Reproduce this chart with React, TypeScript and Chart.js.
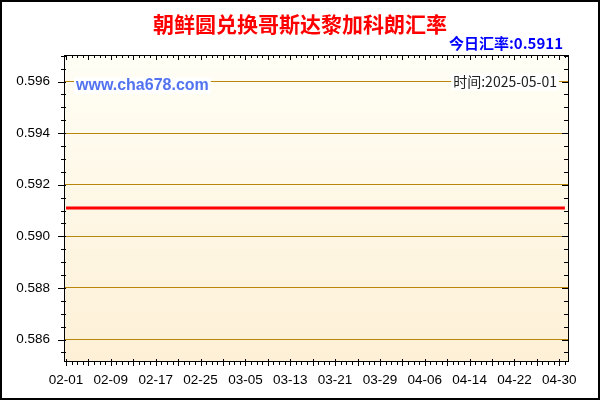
import { useEffect, useRef } from "react";
import { Chart, registerables } from "chart.js";

Chart.register(...registerables);

// 日期(02-01 ~ 05-01)
const dates = [
  "02-01", "02-02", "02-03", "02-04", "02-05", "02-06", "02-07", "02-08", "02-09", "02-10",
  "02-11", "02-12", "02-13", "02-14", "02-15", "02-16", "02-17", "02-18", "02-19", "02-20",
  "02-21", "02-22", "02-23", "02-24", "02-25", "02-26", "02-27", "02-28", "03-01", "03-02",
  "03-03", "03-04", "03-05", "03-06", "03-07", "03-08", "03-09", "03-10", "03-11", "03-12",
  "03-13", "03-14", "03-15", "03-16", "03-17", "03-18", "03-19", "03-20", "03-21", "03-22",
  "03-23", "03-24", "03-25", "03-26", "03-27", "03-28", "03-29", "03-30", "03-31", "04-01",
  "04-02", "04-03", "04-04", "04-05", "04-06", "04-07", "04-08", "04-09", "04-10", "04-11",
  "04-12", "04-13", "04-14", "04-15", "04-16", "04-17", "04-18", "04-19", "04-20", "04-21",
  "04-22", "04-23", "04-24", "04-25", "04-26", "04-27", "04-28", "04-29", "04-30", "05-01",
];

// 汇率
const rates = [
  0.5911, 0.5911, 0.5911, 0.5911, 0.5911, 0.5911, 0.5911, 0.5911, 0.5911, 0.5911,
  0.5911, 0.5911, 0.5911, 0.5911, 0.5911, 0.5911, 0.5911, 0.5911, 0.5911, 0.5911,
  0.5911, 0.5911, 0.5911, 0.5911, 0.5911, 0.5911, 0.5911, 0.5911, 0.5911, 0.5911,
  0.5911, 0.5911, 0.5911, 0.5911, 0.5911, 0.5911, 0.5911, 0.5911, 0.5911, 0.5911,
  0.5911, 0.5911, 0.5911, 0.5911, 0.5911, 0.5911, 0.5911, 0.5911, 0.5911, 0.5911,
  0.5911, 0.5911, 0.5911, 0.5911, 0.5911, 0.5911, 0.5911, 0.5911, 0.5911, 0.5911,
  0.5911, 0.5911, 0.5911, 0.5911, 0.5911, 0.5911, 0.5911, 0.5911, 0.5911, 0.5911,
  0.5911, 0.5911, 0.5911, 0.5911, 0.5911, 0.5911, 0.5911, 0.5911, 0.5911, 0.5911,
  0.5911, 0.5911, 0.5911, 0.5911, 0.5911, 0.5911, 0.5911, 0.5911, 0.5911, 0.5911,
];

const yMin = 0.58517;
const yMax = 0.59703;
const yMinorStep = 0.0005;
const yLabelStep = 0.002;
const xLabelEvery = 8;
const xMajorEvery = 4;

const titleText = "朝鲜圆兑换哥斯达黎加科朗汇率";
const todayText = "今日汇率:0.5911";
const siteText = "www.cha678.com";
const timeText = "时间:2025-05-01";

const isYLabel = (v: number) => {
  const k = v / yLabelStep;
  return Math.abs(k - Math.round(k)) < 1e-6;
};

const framePlugin = {
  id: "frame",
  beforeDraw(chart: any) {
    const { ctx, chartArea: a, width, height } = chart;
    ctx.save();
    ctx.fillStyle = "#FFFFFF";
    ctx.fillRect(0, 0, width, height);
    const g = ctx.createLinearGradient(0, a.top, 0, a.bottom);
    g.addColorStop(0, "#FFFEF5");
    g.addColorStop(1, "#FDF0D6");
    ctx.fillStyle = g;
    ctx.fillRect(a.left, a.top, a.right - a.left, a.bottom - a.top);
    ctx.restore();
  },
  beforeDatasetsDraw(chart: any) {
    const { ctx, chartArea: a } = chart;
    const yTop = chart.scales.y.getPixelForValue(0.596);
    ctx.save();
    // 网址水印
    ctx.font = "bold 16px 'Liberation Sans', Arial, sans-serif";
    const sw = ctx.measureText(siteText).width;
    ctx.fillStyle = "#FFFFFF";
    ctx.fillRect(a.left + 10, yTop - 4, sw + 4, 16);
    ctx.fillStyle = "#5272F0";
    ctx.textBaseline = "middle";
    ctx.textAlign = "left";
    ctx.fillText(siteText, a.left + 12, yTop + 4);
    // 时间
    ctx.font = "14px 'Noto Sans CJK SC', sans-serif";
    const tw = ctx.measureText(timeText).width;
    ctx.fillStyle = "#FFFFFF";
    ctx.fillRect(a.right - 11 - tw - 2, yTop - 8, tw + 4, 17);
    ctx.fillStyle = "#222222";
    ctx.textAlign = "right";
    ctx.fillText(timeText, a.right - 11, yTop + 0.5);
    ctx.restore();
  },
  afterDraw(chart: any) {
    const { ctx, chartArea: a, width, height } = chart;
    const xs = chart.scales.x;
    const ys = chart.scales.y;
    ctx.save();
    ctx.strokeStyle = "#000000";
    ctx.lineWidth = 1;
    ctx.beginPath();
    // 坐标框
    ctx.moveTo(a.left + 0.5, a.top);
    ctx.lineTo(a.left + 0.5, a.bottom + 1);
    ctx.moveTo(a.left, a.bottom + 0.5);
    ctx.lineTo(a.right + 1, a.bottom + 0.5);
    ctx.moveTo(a.left, a.top + 0.5);
    ctx.lineTo(a.right + 1, a.top + 0.5);
    ctx.moveTo(a.right + 0.5, a.top);
    ctx.lineTo(a.right + 0.5, a.bottom + 1);
    // y 刻度
    for (const t of ys.ticks) {
      const py = Math.round(ys.getPixelForValue(t.value)) + 0.5;
      const major = isYLabel(t.value);
      ctx.moveTo(a.left - (major ? 6 : 3), py);
      ctx.lineTo(a.left + 2, py);
      ctx.moveTo(a.right + 1, py);
      ctx.lineTo(a.right - (major ? 6 : 4), py);
    }
    // x 刻度
    for (const t of xs.ticks) {
      const px = Math.round(xs.getPixelForValue(t.value)) + 0.5;
      const major = t.value % xMajorEvery === 0;
      ctx.moveTo(px, a.bottom - (major ? 2 : 0));
      ctx.lineTo(px, a.bottom + (major ? 5 : 4));
      ctx.moveTo(px, a.top);
      ctx.lineTo(px, a.top + (major ? 5 : 3));
    }
    ctx.stroke();
    // 外框
    ctx.lineWidth = 2;
    ctx.strokeRect(1, 1, width - 2, height - 2);
    // 标题
    ctx.textBaseline = "middle";
    ctx.textAlign = "center";
    ctx.fillStyle = "#FF0000";
    ctx.font = "bold 21px 'Noto Sans CJK SC', sans-serif";
    ctx.fillText(titleText, width / 2, 24);
    ctx.textAlign = "right";
    ctx.fillStyle = "#0000FF";
    ctx.font = "bold 15px 'Noto Sans CJK SC', sans-serif";
    ctx.fillText(todayText, a.right - 5, 43);
    ctx.restore();
  },
};

export default function App() {
  const canvasRef = useRef<HTMLCanvasElement | null>(null);

  useEffect(() => {
    document.body.style.margin = "0";
    if (!canvasRef.current) return;
    const chart = new Chart(canvasRef.current, {
      type: "line",
      data: {
        datasets: [
          {
            data: rates.map((r, i) => ({ x: i, y: r })),
            borderColor: "#FF0000",
            borderWidth: 3,
            pointRadius: 0,
            tension: 0,
          },
        ],
      },
      options: {
        responsive: false,
        animation: false,
        events: [],
        layout: { padding: { left: 0, top: 55, right: 32, bottom: 0 } },
        plugins: { legend: { display: false }, tooltip: { enabled: false } },
        scales: {
          x: {
            type: "linear",
            min: -0.36,
            max: 89.55,
            afterFit: (s: any) => {
              s.height = 39;
            },
            border: { display: false },
            grid: { display: false, drawTicks: false },
            ticks: {
              stepSize: 1,
              autoSkip: false,
              includeBounds: false,
              maxRotation: 0,
              padding: 11,
              color: "#000000",
              font: { family: "'Liberation Sans', Arial, sans-serif", size: 13.5 },
              callback: (v: any) => (v % xLabelEvery === 0 && dates[v] ? dates[v] : ""),
            },
          },
          y: {
            min: yMin,
            max: yMax,
            afterFit: (s: any) => {
              s.width = 64;
            },
            border: { display: false },
            grid: {
              drawTicks: false,
              lineWidth: 1,
              color: (c: any) => (c.tick && isYLabel(c.tick.value) ? "#B8860B" : "rgba(0,0,0,0)"),
            },
            ticks: {
              stepSize: yMinorStep,
              autoSkip: false,
              includeBounds: false,
              padding: 14,
              color: "#000000",
              font: { family: "'Liberation Sans', Arial, sans-serif", size: 13.5 },
              callback: (v: any) => (isYLabel(v) ? Number(v).toFixed(3) : ""),
            },
          },
        },
      },
      plugins: [framePlugin],
    });
    return () => {
      chart.destroy();
    };
  }, []);

  return (
    <div style={{ width: 600, height: 400 }}>
      <canvas ref={canvasRef} width={600} height={400} style={{ display: "block" }}></canvas>
    </div>
  );
}
